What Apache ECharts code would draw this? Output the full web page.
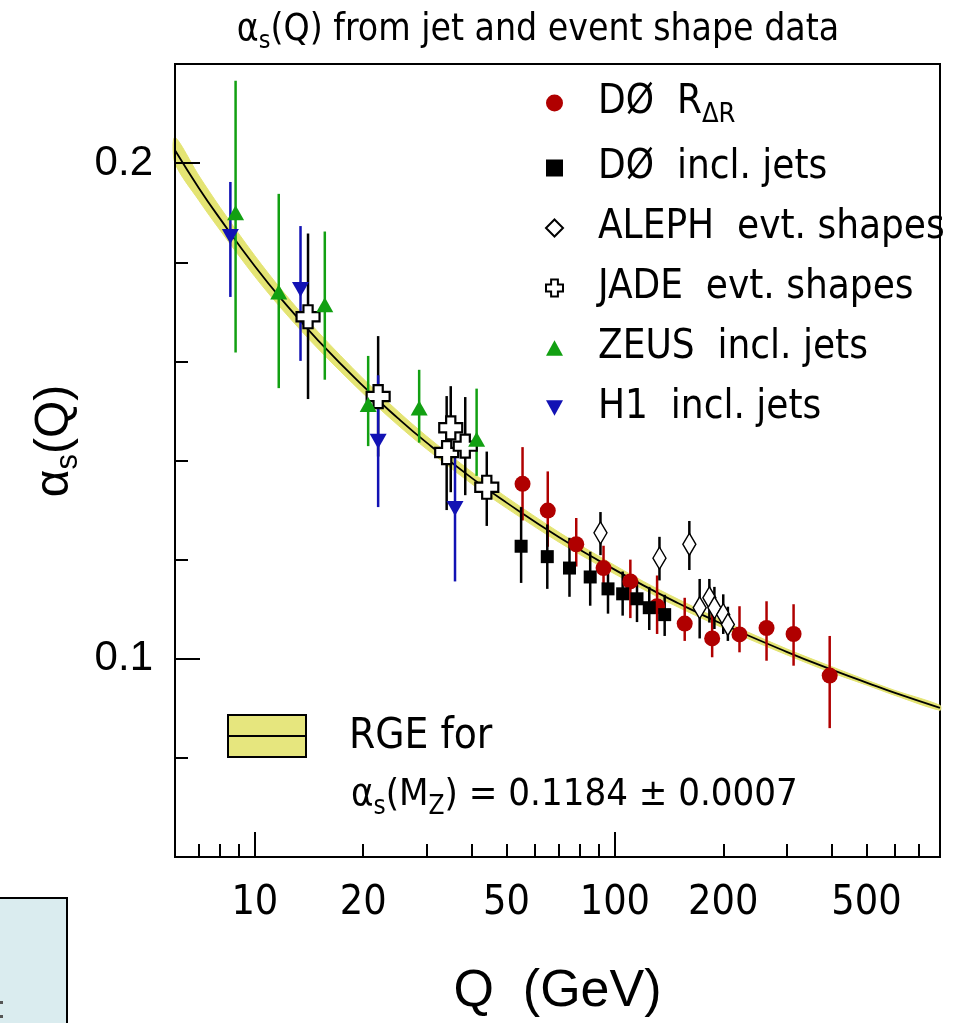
<!DOCTYPE html>
<html><head><meta charset="utf-8">
<script src="https://cdn.jsdelivr.net/npm/echarts@6/dist/echarts.min.js"></script>
<style>html,body{margin:0;padding:0;background:#fff}#c{width:958px;height:1023px}</style>
</head><body><div id="c"></div>
<script>
const NARROW = '"Liberation Sans Narrow","Arial Narrow","DejaVu Sans Condensed",sans-serif';
const SANS = '"Liberation Sans",Arial,sans-serif';

// RGE curve
const rgeQ     = [6, 7, 8, 10, 12, 15, 20, 25, 30, 40, 50, 70, 91.2, 120, 150, 200, 300, 400, 500, 600, 800];
const rgeAlpha = [0.2026, 0.1949, 0.1888, 0.1792, 0.1721, 0.1642, 0.1550, 0.1485, 0.1436, 0.1365, 0.1315, 0.1245, 0.1196, 0.1148, 0.1112, 0.1069, 0.1014, 0.0978, 0.0952, 0.0931, 0.0901];
const rgeHalf  = [0.0026, 0.0025, 0.0023, 0.0021, 0.0019, 0.0017, 0.0015, 0.0014, 0.0013, 0.0012, 0.0011, 0.0010, 0.0009, 0.0008, 0.0008, 0.0007, 0.0006, 0.0006, 0.0005, 0.0005, 0.0005];

// DØ R_ΔR
const d0rQ  = [55.4, 65.1, 78.1, 93.0, 110.4, 131.0, 156.3, 186.3, 221.9, 263.8, 313.6, 395.1];
const d0rA  = [0.1353, 0.1299, 0.1231, 0.1183, 0.1156, 0.1106, 0.1071, 0.1041, 0.1049, 0.1062, 0.1050, 0.0966];
const d0rLo = [0.1279, 0.1226, 0.1186, 0.1133, 0.1082, 0.1050, 0.1036, 0.1003, 0.1013, 0.0996, 0.0986, 0.0860];
const d0rHi = [0.1427, 0.1378, 0.1284, 0.1228, 0.1200, 0.1168, 0.1123, 0.1093, 0.1106, 0.1116, 0.1110, 0.1046];

// DØ inclusive jets
const d0jQ  = [54.9, 64.9, 74.8, 85.4, 95.7, 105.1, 115.2, 124.6, 137.5];
const d0jA  = [0.1227, 0.1206, 0.1183, 0.1165, 0.1141, 0.1131, 0.1121, 0.1103, 0.1089];
const d0jLo = [0.1153, 0.1141, 0.1125, 0.1107, 0.1091, 0.1087, 0.1074, 0.1058, 0.1046];
const d0jHi = [0.1306, 0.1271, 0.1244, 0.1216, 0.1176, 0.1176, 0.1158, 0.1145, 0.1129];

// ALEPH event shapes
const alephQ  = [91.2, 133, 161, 172, 183, 189, 200, 206];
const alephA  = [0.1254, 0.1203, 0.1231, 0.1103, 0.1123, 0.1103, 0.1089, 0.1069];
const alephLo = [0.1209, 0.1158, 0.1179, 0.1041, 0.1073, 0.1060, 0.1050, 0.1036];
const alephHi = [0.1296, 0.1246, 0.1278, 0.1161, 0.1161, 0.1145, 0.1130, 0.1105];

// JADE event shapes
const jadeQ  = [14.05, 22.0, 34.1, 35.0, 38.4, 44.07];
const jadeA  = [0.1690, 0.1529, 0.1416, 0.1466, 0.1429, 0.1346];
const jadeLo = [0.1524, 0.1408, 0.1300, 0.1336, 0.1330, 0.1268];
const jadeHi = [0.1858, 0.1651, 0.1530, 0.1550, 0.1528, 0.1418];

// ZEUS inclusive jets
const zeusQ  = [8.84, 11.65, 15.64, 20.64, 28.6, 41.3];
const zeusA  = [0.1900, 0.1740, 0.1714, 0.1513, 0.1506, 0.1443];
const zeusLo = [0.1618, 0.1546, 0.1563, 0.1429, 0.1436, 0.1369];
const zeusHi = [0.2166, 0.1938, 0.1862, 0.1611, 0.1583, 0.1545];

// H1 inclusive jets
const h1Q  = [8.55, 13.39, 22.0, 35.97];
const h1A  = [0.1852, 0.1745, 0.1439, 0.1303];
const h1Lo = [0.1730, 0.1601, 0.1306, 0.1156];
const h1Hi = [0.1962, 0.1873, 0.1572, 0.1420];

// axis ticks / labels
const xMinorTicks = [7, 8, 9, 20, 30, 40, 50, 60, 70, 80, 90, 200, 300, 400, 500, 600, 700];
const xMajorTicks = [10, 100];
const xTickLabels = [10, 20, 50, 100, 200, 500];
const yMajorTicks = [0.1, 0.2];
const yTickLabels = [0.1, 0.2];

const RED = '#b00000', BLACK = '#000000', GREEN = '#12a012', BLUE = '#1212b4', YELLOW = '#e4e473';
const CROSS = 'path://M3,0 L7,0 L7,3 L10,3 L10,7 L7,7 L7,10 L3,10 L3,7 L0,7 L0,3 L3,3 Z';
const DOWN_TRI = 'path://M0,0 L10,0 L5,9 Z';
const UP_TRI = 'path://M5,0 L10,9 L0,9 Z';

function pts(q, a) { return q.map((v, i) => [v, a[i]]); }
function bars(q, lo, hi) { return q.map((v, i) => [v, lo[i], hi[i]]); }

function errSeries(q, lo, hi, color) {
  return {
    type: 'custom', z: 3, silent: true,
    data: bars(q, lo, hi),
    encode: { x: 0, y: [1, 2] },
    renderItem: function (params, api) {
      const p1 = api.coord([api.value(0), api.value(1)]);
      const p2 = api.coord([api.value(0), api.value(2)]);
      return { type: 'line', shape: { x1: p1[0], y1: p1[1], x2: p2[0], y2: p2[1] },
               style: { stroke: color, lineWidth: 2.5 } };
    }
  };
}

const bandData = rgeQ.map((q, i) => [q, rgeAlpha[i] - rgeHalf[i], rgeAlpha[i] + rgeHalf[i]]);

const legendNames = ['DØ RΔR', 'DØ  incl. jets', 'ALEPH  evt. shapes', 'JADE  evt. shapes', 'ZEUS  incl. jets', 'H1  incl. jets'];

const chart = echarts.init(document.getElementById('c'), null, { renderer: 'canvas' });

chart.setOption({
  animation: false,
  backgroundColor: '#fff',
  grid: { left: 175, right: 18, top: 64, bottom: 159, show: true, borderColor: '#000', borderWidth: 2, backgroundColor: 'transparent' },
  legend: {
    orient: 'vertical', left: 540, top: 78,
    itemWidth: 17, itemHeight: 17, itemGap: 20,
    data: [
      { name: legendNames[0], icon: 'circle' },
      { name: legendNames[1], icon: 'rect' },
      { name: legendNames[2], icon: 'diamond' },
      { name: legendNames[3], icon: CROSS },
      { name: legendNames[4], icon: UP_TRI },
      { name: legendNames[5], icon: DOWN_TRI }
    ],
    formatter: function (name) {
      if (name === 'DØ RΔR') return '{t|DØ  R}{sub|ΔR}';
      return '{t|' + name + '}';
    },
    textStyle: {
      padding: [0, 0, 0, 30],
      rich: {
        t: { fontFamily: NARROW, fontSize: 40, lineHeight: 50, color: '#000' },
        sub: { fontFamily: NARROW, fontSize: 27, lineHeight: 20, verticalAlign: 'bottom', color: '#000' }
      }
    }
  },
  xAxis: [
    {
      type: 'log', logBase: 10, min: 6, max: 800, z: 10,
      axisLine: { show: true, lineStyle: { color: '#000', width: 2 } },
      axisTick: { show: true, inside: true, length: 13, lineStyle: { color: '#000', width: 2 }, customValues: xMinorTicks },
      axisLabel: { customValues: xTickLabels, margin: 26, fontFamily: NARROW, fontSize: 41, color: '#000' },
      splitLine: { show: false }, minorTick: { show: false }, minorSplitLine: { show: false },
      name: 'Q  (GeV)', nameLocation: 'middle', nameGap: 109,
      nameTextStyle: { fontFamily: SANS, fontSize: 52, color: '#000' }
    },
    {
      type: 'log', logBase: 10, min: 6, max: 800, position: 'bottom', offset: 0, z: 10,
      axisLine: { show: false },
      axisTick: { show: true, inside: true, length: 25, lineStyle: { color: '#000', width: 2 }, customValues: xMajorTicks },
      axisLabel: { show: false }, splitLine: { show: false }
    }
  ],
  yAxis: [
    {
      type: 'value', min: 0.06, max: 0.22, interval: 0.02, z: 10,
      axisLine: { show: true, lineStyle: { color: '#000', width: 2 } },
      axisTick: { show: true, inside: true, length: 13, lineStyle: { color: '#000', width: 2 } },
      axisLabel: { customValues: yTickLabels, margin: 22, fontFamily: SANS, fontSize: 42, color: '#000',
                   formatter: function (v) { return v.toFixed(1); } },
      splitLine: { show: false }
    },
    {
      type: 'value', min: 0.06, max: 0.22, position: 'left', offset: 0, z: 10,
      axisLine: { show: false },
      axisTick: { show: true, inside: true, length: 25, lineStyle: { color: '#000', width: 2 }, customValues: yMajorTicks },
      axisLabel: { show: false }, splitLine: { show: false }
    }
  ],
  graphic: [
    { type: 'text', x: 538, y: 30, z: 10,
      style: { text: '{a|α}{s|s}{a|(Q) from jet and event shape data}', align: 'center', verticalAlign: 'middle',
               rich: { a: { fontFamily: NARROW, fontSize: 37, lineHeight: 48, color: '#000' },
                       s: { fontFamily: NARROW, fontSize: 25, lineHeight: 14, verticalAlign: 'bottom', color: '#000' } } } },
    { type: 'text', x: 55, y: 441, rotation: Math.PI / 2, z: 10,
      style: { text: '{a|α}{s|s}{a|(Q)}', align: 'center', verticalAlign: 'middle',
               rich: { a: { fontFamily: SANS, fontSize: 48, lineHeight: 58, color: '#000' },
                       s: { fontFamily: SANS, fontSize: 31, lineHeight: 18, verticalAlign: 'bottom', color: '#000' } } } },
    { type: 'rect', shape: { x: 228, y: 715, width: 78, height: 42 }, z: 10,
      style: { fill: '#e6e67e', stroke: '#000', lineWidth: 2 } },
    { type: 'line', shape: { x1: 228, y1: 736, x2: 306, y2: 736 }, z: 11,
      style: { stroke: '#000', lineWidth: 2 } },
    { type: 'text', x: 349, y: 737, z: 10,
      style: { text: 'RGE for', fontFamily: NARROW, fontSize: 42, fill: '#000', verticalAlign: 'middle' } },
    { type: 'text', x: 351, y: 795, z: 10,
      style: { text: '{a|α}{s|s}{a|(M}{s|Z}{a|) = 0.1184 ± 0.0007}', verticalAlign: 'middle',
               rich: { a: { fontFamily: NARROW, fontSize: 38, lineHeight: 50, color: '#000' },
                       s: { fontFamily: NARROW, fontSize: 26, lineHeight: 16, verticalAlign: 'bottom', color: '#000' } } } },
    { type: 'rect', shape: { x: -2, y: 898, width: 69, height: 130 }, z: 10,
      style: { fill: '#daecef', stroke: '#000', lineWidth: 2 } },
    { type: 'rect', shape: { x: 0, y: 1001, width: 3, height: 3 }, z: 11, style: { fill: '#555' } },
    { type: 'rect', shape: { x: 0, y: 1015, width: 3, height: 3 }, z: 11, style: { fill: '#555' } }
  ],
  series: [
    { type: 'custom', name: 'band', z: 1, silent: true,
      data: bandData, encode: { x: 0, y: [1, 2] },
      renderItem: function (params, api) {
        if (params.dataIndex !== 0) return null;
        const upper = bandData.map(d => api.coord([d[0], d[2]]));
        const lower = bandData.map(d => api.coord([d[0], d[1]])).reverse();
        return { type: 'polygon', shape: { points: upper.concat(lower), smooth: 0.3 },
                 style: { fill: YELLOW, stroke: YELLOW, lineWidth: 1 } };
      }
    },
    { type: 'line', name: 'RGE', data: pts(rgeQ, rgeAlpha), symbol: 'none', smooth: true,
      lineStyle: { color: '#000', width: 1.8 }, z: 2, silent: true },

    errSeries(d0rQ, d0rLo, d0rHi, RED),
    errSeries(d0jQ, d0jLo, d0jHi, BLACK),
    errSeries(alephQ, alephLo, alephHi, BLACK),
    errSeries(jadeQ, jadeLo, jadeHi, BLACK),
    errSeries(zeusQ, zeusLo, zeusHi, GREEN),
    errSeries(h1Q, h1Lo, h1Hi, BLUE),

    { type: 'scatter', name: legendNames[0], data: pts(d0rQ, d0rA), symbol: 'circle', symbolSize: 16, z: 5,
      itemStyle: { color: RED, opacity: 1 } },
    { type: 'scatter', name: legendNames[1], data: pts(d0jQ, d0jA), symbol: 'rect', symbolSize: 13, z: 5,
      itemStyle: { color: BLACK, opacity: 1 } },
    { type: 'scatter', name: legendNames[2], data: pts(alephQ, alephA), symbol: 'diamond', symbolSize: [13, 22], z: 5,
      itemStyle: { color: '#fff', borderColor: '#000', borderWidth: 1.5, opacity: 1 } },
    { type: 'scatter', name: legendNames[3], data: pts(jadeQ, jadeA), symbol: CROSS, symbolSize: 23, z: 5,
      itemStyle: { color: '#fff', borderColor: '#000', borderWidth: 2.2, opacity: 1 } },
    { type: 'scatter', name: legendNames[4], data: pts(zeusQ, zeusA), symbol: UP_TRI, symbolSize: [17, 15], z: 5,
      itemStyle: { color: GREEN, opacity: 1 } },
    { type: 'scatter', name: legendNames[5], data: pts(h1Q, h1A), symbol: DOWN_TRI, symbolSize: [17, 15], z: 5,
      itemStyle: { color: BLUE, opacity: 1 } }
  ]
});
</script>
</body></html>
